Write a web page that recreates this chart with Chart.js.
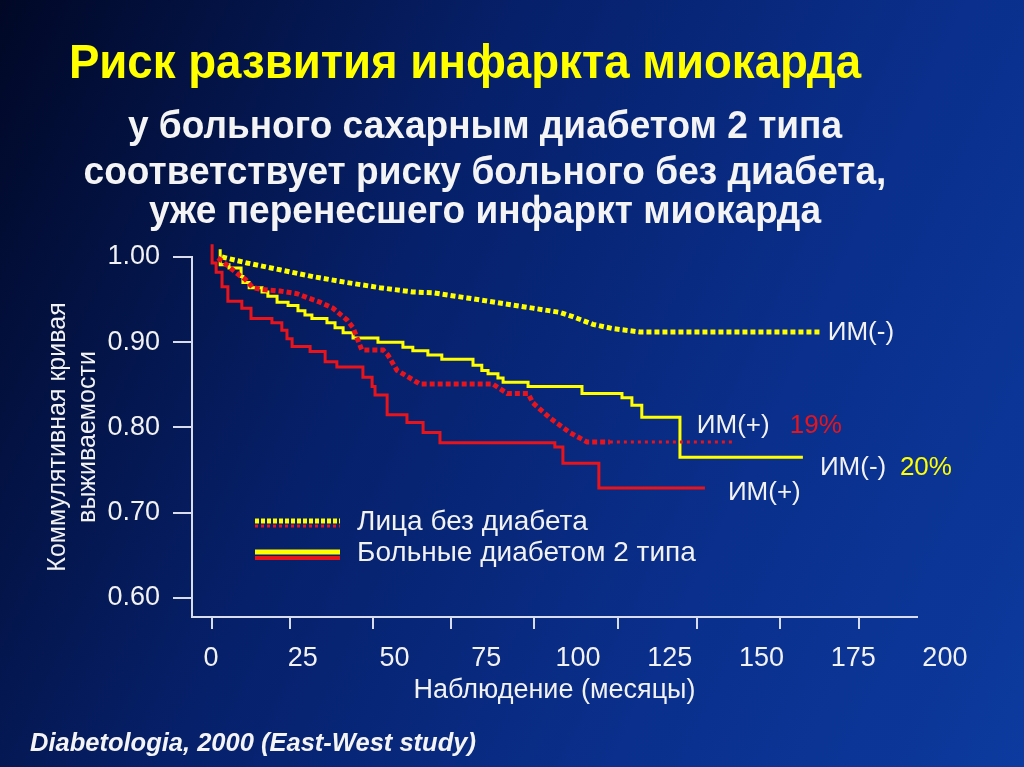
<!DOCTYPE html>
<html lang="ru">
<head>
<meta charset="utf-8">
<title>Риск развития инфаркта миокарда</title>
<script src="https://cdn.jsdelivr.net/npm/chart.js@4.4.1/dist/chart.umd.min.js"></script>
<style>
  html, body { margin: 0; padding: 0; }
  body {
    width: 1024px; height: 767px; overflow: hidden; position: relative;
    background: linear-gradient(115deg, #010826 0%, #06206a 38%, #0a2f8c 70%, #0c3a9e 100%);
    color: #f2f2f2;
  }
  #grafico { position: absolute; left: 0; top: 0; }
  .txt {
    position: absolute; white-space: nowrap; text-align: center;
    font-family: 'Liberation Sans', Arial, sans-serif;
    font-weight: bold;
  }
  #titulo { left: 0; width: 930px; top: 36px; font-size: 48px; line-height: 52px; color: #ffff00;
    transform: scaleX(0.95); transform-origin: 465px 50%; }
  .sub { left: 0; width: 970px; font-size: 38px; line-height: 42px; color: #f4f4f4;
    transform: scaleX(0.975); transform-origin: 485px 50%; }
  #fonte { left: 30px; top: 727px; font-size: 25.5px; line-height: 30px; font-style: italic; text-align: left; color: #f4f4f4; }
</style>
</head>
<body>
<canvas id="grafico" width="1024" height="767"></canvas>
<div class="txt" id="titulo">Риск развития инфаркта миокарда</div>
<div class="txt sub" style="top:104px">у больного сахарным диабетом 2 типа</div>
<div class="txt sub" style="top:150px">соответствует риску больного без диабета,</div>
<div class="txt sub" style="top:189px">уже перенесшего инфаркт миокарда</div>
<div class="txt" id="fonte">Diabetologia, 2000 (East-West study)</div>
<script>
// eixos
const xTicks = [0, 25, 50, 75, 100, 125, 150, 175, 200];
const xTickMarks = [0.3, 21.5, 44.1, 65.4, 88.0, 110.9, 132.4, 155.0, 176.6];
const yTicks = [0.60, 0.70, 0.80, 0.90, 1.00];

// sem diabetes, IM(-) (pontilhado amarelo)
const ydMonths = [3.0, 9.8, 18.8, 27.8, 37.1, 46.0, 55.0, 60.5, 69.8, 78.7, 87.7, 95.1, 98.6, 104.1, 109.5, 116.9, 165.9];
const ydValues = [1.000, 0.993, 0.985, 0.977, 0.970, 0.964, 0.959, 0.958, 0.952, 0.946, 0.940, 0.935, 0.930, 0.921, 0.916, 0.912, 0.912];

// sem diabetes, IM(+) (pontilhado vermelho)
const rdMonths = [1.9, 7.9, 9.3, 11.4, 13.9, 18.8, 23.4, 29.7, 33.2, 37.1, 38.7, 39.8, 41.1, 46.9, 48.2, 50.7, 55.0, 56.9, 76.8, 80.7, 86.4, 87.7, 92.4, 97.8, 102.5, 108.7, 142.2];
const rdValues = [0.999, 0.978, 0.974, 0.964, 0.962, 0.960, 0.957, 0.947, 0.940, 0.926, 0.917, 0.905, 0.891, 0.891, 0.885, 0.867, 0.856, 0.851, 0.851, 0.840, 0.840, 0.829, 0.811, 0.794, 0.783, 0.783, 0.783];

// diabetes tipo 2, IM(-) (linha amarela)
const ysMonths = [2.5, 2.5, 4.9, 8.2, 8.7, 10.4, 13.9, 15.5, 18.0, 21.0, 23.7, 25.6, 27.5, 31.6, 33.8, 36.0, 38.7, 45.5, 52.3, 55.0, 59.1, 62.9, 71.4, 73.8, 75.5, 78.2, 79.6, 86.4, 101.1, 112.0, 114.7, 117.4, 127.8, 161.3];
const ysValues = [1.009, 0.991, 0.987, 0.977, 0.970, 0.964, 0.959, 0.954, 0.947, 0.943, 0.937, 0.932, 0.928, 0.923, 0.917, 0.911, 0.905, 0.900, 0.894, 0.890, 0.885, 0.880, 0.873, 0.867, 0.863, 0.858, 0.853, 0.848, 0.840, 0.835, 0.826, 0.812, 0.765, 0.765];

// diabetes tipo 2, IM(+) (linha vermelha)
const rsMonths = [0.3, 0.3, 1.4, 3.0, 4.6, 8.4, 10.9, 16.6, 19.3, 20.7, 22.1, 27.0, 31.1, 34.3, 41.4, 43.9, 44.7, 48.0, 53.4, 57.8, 62.4, 93.7, 95.9, 105.7, 134.6];
const rsValues = [1.015, 0.993, 0.982, 0.965, 0.948, 0.940, 0.928, 0.923, 0.914, 0.904, 0.895, 0.889, 0.877, 0.871, 0.859, 0.848, 0.838, 0.815, 0.806, 0.794, 0.782, 0.777, 0.758, 0.729, 0.729];

const FONTE = "'Liberation Sans', Arial, sans-serif";
const BRANCO = '#f2f2f2';
const EIXO = '#d9dcea';
const AMARELO = '#ffff00';
const VERMELHO = '#e8141c';

Chart.defaults.font.family = FONTE;
Chart.defaults.color = BRANCO;

function pontos(meses, valores) {
    return meses.map((m, i) => ({ x: m, y: valores[i] }));
}

// rótulos no fim das curvas
const rotulosFinais = {
    id: 'rotulosFinais',
    afterDatasetsDraw(chart, args, opts) {
        const c = chart.ctx;
        c.save();
        c.font = '26px ' + FONTE;
        c.textBaseline = 'middle';
        c.textAlign = 'left';
        opts.items.forEach(item => {
            const meta = chart.getDatasetMeta(item.dataset);
            const ult = meta.data[meta.data.length - 1];
            item.parts.forEach(p => {
                c.fillStyle = p.color;
                c.fillText(p.text, ult.x + p.dx, ult.y + item.dy);
            });
        });
        c.restore();
    }
};

// legenda com duas linhas por item
const legendaDupla = {
    id: 'legendaDupla',
    afterDraw(chart, args, opts) {
        const c = chart.ctx, a = chart.chartArea, ds = chart.data.datasets;
        c.save();
        opts.rows.forEach(row => {
            const y = a.top + row.dy;
            row.lines.forEach(l => {
                const d = ds[l.dataset];
                c.beginPath();
                c.strokeStyle = d.borderColor;
                c.lineWidth = l.width;
                c.setLineDash(l.dash || []);
                c.moveTo(a.left + opts.x0, y + l.off);
                c.lineTo(a.left + opts.x1, y + l.off);
                c.stroke();
            });
            c.setLineDash([]);
            c.fillStyle = BRANCO;
            c.font = '28px ' + FONTE;
            c.textBaseline = 'middle';
            c.fillText(row.text, a.left + opts.textX, y + 1);
        });
        c.restore();
    }
};

const ultimoRd = rdMonths.length - 2;

const myChart = new Chart(document.getElementById('grafico').getContext('2d'), {
    type: 'line',
    data: {
        datasets: [
            {
                label: 'Лица без диабета, ИМ(+)',
                data: pontos(rdMonths, rdValues),
                borderColor: VERMELHO,
                borderWidth: 5,
                borderDash: [5, 3],
                borderCapStyle: 'butt',
                tension: 0,
                pointRadius: 0,
                clip: false,
                segment: {
                    borderWidth: ctx => ctx.p0DataIndex >= ultimoRd ? 3 : undefined,
                    borderDash: ctx => ctx.p0DataIndex >= ultimoRd ? [3, 4] : undefined
                }
            },
            {
                label: 'Лица без диабета, ИМ(-)',
                data: pontos(ydMonths, ydValues),
                borderColor: AMARELO,
                borderWidth: 5,
                borderDash: [5, 3],
                borderCapStyle: 'butt',
                tension: 0,
                pointRadius: 0,
                clip: false
            },
            {
                label: 'Больные диабетом 2 типа, ИМ(-)',
                data: pontos(ysMonths, ysValues),
                borderColor: AMARELO,
                borderWidth: 3,
                stepped: 'before',
                pointRadius: 0,
                clip: false
            },
            {
                label: 'Больные диабетом 2 типа, ИМ(+)',
                data: pontos(rsMonths, rsValues),
                borderColor: VERMELHO,
                borderWidth: 3,
                stepped: 'before',
                pointRadius: 0,
                clip: false
            }
        ]
    },
    options: {
        responsive: false,
        animation: false,
        layout: {
            padding: { left: 43, top: 257, right: 107, bottom: 60 }
        },
        scales: {
            xt: {
                type: 'linear',
                position: 'bottom',
                weight: 0,
                min: -5.18,
                max: 192.4,
                afterBuildTicks: s => { s.ticks = xTickMarks.map(v => ({ value: v })); },
                ticks: { display: false },
                grid: { display: true, drawOnChartArea: false, drawTicks: true, tickLength: 12, color: EIXO, lineWidth: 2 },
                border: { display: true, color: EIXO, width: 2 }
            },
            x: {
                type: 'linear',
                position: 'bottom',
                weight: 1,
                min: -5.18,
                max: 192.4,
                afterBuildTicks: s => { s.ticks = xTicks.map(v => ({ value: v })); },
                afterFit: s => { s.height = 78; },
                ticks: { autoSkip: false, color: BRANCO, font: { size: 27 }, padding: 13, maxRotation: 0 },
                grid: { display: false, drawTicks: false },
                border: { display: false },
                title: {
                    display: true,
                    text: 'Наблюдение (месяцы)',
                    color: BRANCO,
                    font: { size: 27 },
                    padding: { top: 0, bottom: 0 }
                }
            },
            y: {
                min: 0.5777,
                max: 1.0,
                afterBuildTicks: s => { s.ticks = yTicks.map(v => ({ value: v })); },
                afterFit: s => { s.width = 149; },
                ticks: {
                    color: BRANCO,
                    font: { size: 27 },
                    padding: 13,
                    callback: v => v.toFixed(2)
                },
                grid: { display: true, drawOnChartArea: false, drawTicks: true, tickLength: 19, color: EIXO, lineWidth: 2 },
                border: { display: true, color: EIXO, width: 2 },
                title: {
                    display: true,
                    text: ['Коммулятивная кривая', 'выживаемости'],
                    color: BRANCO,
                    font: { size: 25, lineHeight: 1.2 },
                    padding: 0
                }
            }
        },
        plugins: {
            legend: { display: false },
            tooltip: { enabled: false },
            rotulosFinais: {
                items: [
                    { dataset: 1, dy: 1, parts: [{ text: 'ИМ(-)', color: BRANCO, dx: 8 }] },
                    { dataset: 0, dy: -16, parts: [{ text: 'ИМ(+)', color: BRANCO, dx: -36 }, { text: '19%', color: VERMELHO, dx: 57 }] },
                    { dataset: 2, dy: 10, parts: [{ text: 'ИМ(-)', color: BRANCO, dx: 17 }, { text: '20%', color: AMARELO, dx: 97 }] },
                    { dataset: 3, dy: 5, parts: [{ text: 'ИМ(+)', color: BRANCO, dx: 23 }] }
                ]
            },
            legendaDupla: {
                x0: 63, x1: 148, textX: 165,
                rows: [
                    { text: 'Лица без диабета', dy: 264, lines: [
                        { dataset: 1, off: 0, width: 5, dash: [4, 2] },
                        { dataset: 0, off: 5, width: 3, dash: [3, 3] }
                    ] },
                    { text: 'Больные диабетом 2 типа', dy: 295, lines: [
                        { dataset: 2, off: 0, width: 5 },
                        { dataset: 3, off: 6, width: 4 }
                    ] }
                ]
            }
        }
    },
    plugins: [rotulosFinais, legendaDupla]
});
</script>
</body>
</html>
